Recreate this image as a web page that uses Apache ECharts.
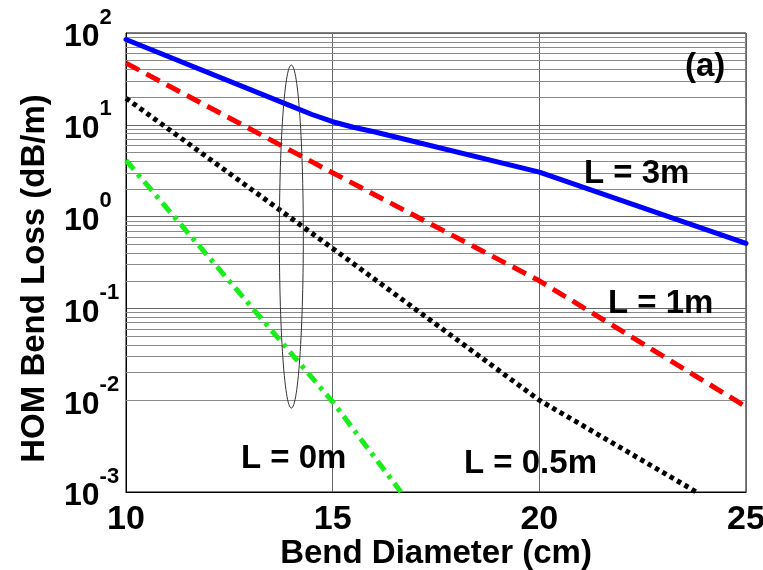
<!DOCTYPE html>
<html><head><meta charset="utf-8">
<script src="https://cdn.jsdelivr.net/npm/echarts@6/dist/echarts.min.js"></script>
<style>html,body{margin:0;padding:0;background:#fff}#c{width:763px;height:570px}</style>
</head><body><div id="c"></div>
<script>
const FONT = '"Liberation Sans", Arial, Helvetica, sans-serif';
// ---- data ----
const xTicks = [10, 15, 20, 25];
const yExponents = [-3, -2, -1, 0, 1, 2];
const seriesNames = ['L = 3m', 'L = 1m', 'L = 0.5m', 'L = 0m'];
const lossL3 = [[10, 85], [14, 16.0], [14.5, 12.95], [15, 10.8], [15.5, 9.4], [16, 8.4], [20, 3.05], [25, 0.51]];
const lossL1 = [[10, 47], [15, 3.0], [20, 0.2], [25, 0.0085]];
const lossL05 = [[10, 19.5], [15, 0.45], [20, 0.01], [23.8, 0.001]];
const lossL0 = [[10, 4.1], [15, 0.0096], [16.65, 0.001]];
const ellipseMark = [[14, 44.8, 0.0082, 0.29]]; // x, top, bottom, half-width (x units)
const mantissas = [2, 3, 4, 5, 6, 7, 8, 9];
const panelLabel = '(a)';

// minor grid lines (2..9 per decade)
const minorGrid = [];
for (let e = yExponents[0]; e < yExponents[yExponents.length - 1]; e++) {
  for (const m of mantissas) minorGrid.push({ yAxis: +(m * Math.pow(10, e)).toPrecision(6) });
}

const chart = echarts.init(document.getElementById('c'), null, { renderer: 'canvas' });

const txt = (text, x, y) => ({
  type: 'text', x: x, y: y, z: 50,
  style: { text: text, fill: '#000', font: 'bold 33px ' + FONT, align: 'left', verticalAlign: 'middle', textAlign: 'left', textVerticalAlign: 'middle' }
});

chart.setOption({
  animation: false,
  backgroundColor: '#fff',
  grid: { left: 126, right: 17, top: 33, bottom: 78, containLabel: false, outerBoundsMode: 'none',
    show: true, borderColor: '#000', borderWidth: 1, backgroundColor: 'transparent' },
  xAxis: {
    type: 'value', min: xTicks[0], max: xTicks[xTicks.length - 1], interval: 5,
    axisLine: { show: true, onZero: false, lineStyle: { color: '#000', width: 1 } },
    axisTick: { show: false },
    splitLine: { show: true, lineStyle: { color: '#666', width: 1 } },
    axisLabel: { margin: 11, fontSize: 34, fontWeight: 'bold', fontFamily: FONT, color: '#000', hideOverlap: false, showMinLabel: true, showMaxLabel: true },
    name: 'Bend Diameter (cm)', nameLocation: 'middle', nameGap: 45, nameMoveOverlap: false,
    nameTextStyle: { fontSize: 33, fontWeight: 'bold', fontFamily: FONT, color: '#000' }
  },
  yAxis: {
    type: 'log', logBase: 10, min: Math.pow(10, yExponents[0]), max: Math.pow(10, yExponents[yExponents.length - 1]),
    axisLine: { show: true, lineStyle: { color: '#000', width: 1 } },
    axisTick: { show: false },
    splitLine: { show: true, lineStyle: { color: '#666', width: 1 } },
    axisLabel: {
      align: 'left', margin: 62, showMinLabel: true, showMaxLabel: true,
      formatter: v => '{b|10}{s|' + Math.round(Math.log10(v)) + '}',
      rich: {
        b: { fontSize: 32, fontWeight: 'bold', fontFamily: FONT, color: '#000', padding: [15, 0, 6, 0] },
        s: { fontSize: 22, fontWeight: 'bold', fontFamily: FONT, color: '#000', verticalAlign: 'top' }
      }
    },
    name: 'HOM Bend Loss (dB/m)', nameLocation: 'middle', nameGap: 75, nameMoveOverlap: false,
    nameTextStyle: { fontSize: 33, fontWeight: 'bold', fontFamily: FONT, color: '#000', padding: [0, 32, 0, 0] }
  },
  series: [
    {
      type: 'line', name: 'grid', data: [], symbol: 'none', silent: true, z: 1,
      lineStyle: { width: 0 },
      markLine: { silent: true, symbol: 'none', z: 1, label: { show: false }, animation: false,
        lineStyle: { color: '#8a8a8a', width: 1, type: 'solid' }, data: minorGrid }
    },
    { type: 'line', name: seriesNames[0], data: lossL3, symbol: 'none', z: 5, clip: true,
      lineStyle: { color: '#0000ff', width: 5, type: 'solid', cap: 'round', join: 'round' } },
    { type: 'line', name: seriesNames[1], data: lossL1, symbol: 'none', z: 5, clip: true,
      lineStyle: { color: '#ff0000', width: 5, type: [15, 8], cap: 'butt' } },
    { type: 'line', name: seriesNames[2], data: lossL05, symbol: 'none', z: 5, clip: true,
      lineStyle: { color: '#000000', width: 5, type: [4.5, 4], cap: 'butt' } },
    { type: 'line', name: seriesNames[3], data: lossL0, symbol: 'none', z: 5, clip: true,
      lineStyle: { color: '#1aee1a', width: 5, type: [12, 6, 4, 6], cap: 'butt' } },
    {
      type: 'custom', name: 'ellipse', data: ellipseMark, z: 6, silent: true, clip: false,
      renderItem: function (params, api) {
        const x = api.value(0), top = api.value(1), bot = api.value(2), hw = api.value(3);
        const pt = api.coord([x, top]), pb = api.coord([x, bot]), pr = api.coord([x + hw, top]);
        const cx = pt[0], cy = (pt[1] + pb[1]) / 2, ry = (pb[1] - pt[1]) / 2, rx = pr[0] - pt[0];
        const pts = [];
        for (let i = 0; i <= 120; i++) {
          const t = i / 120 * Math.PI * 2;
          pts.push([cx + rx * Math.cos(t), cy + ry * Math.sin(t)]);
        }
        return { type: 'polyline', shape: { points: pts }, style: { stroke: '#333', lineWidth: 1, fill: null } };
      }
    }
  ],
  graphic: [
    txt(seriesNames[0], 584, 174),
    txt(seriesNames[1], 608, 304),
    txt(seriesNames[3], 241, 459),
    txt(seriesNames[2], 464, 464),
    txt(panelLabel, 685, 67)
  ]
});
</script></body></html>
